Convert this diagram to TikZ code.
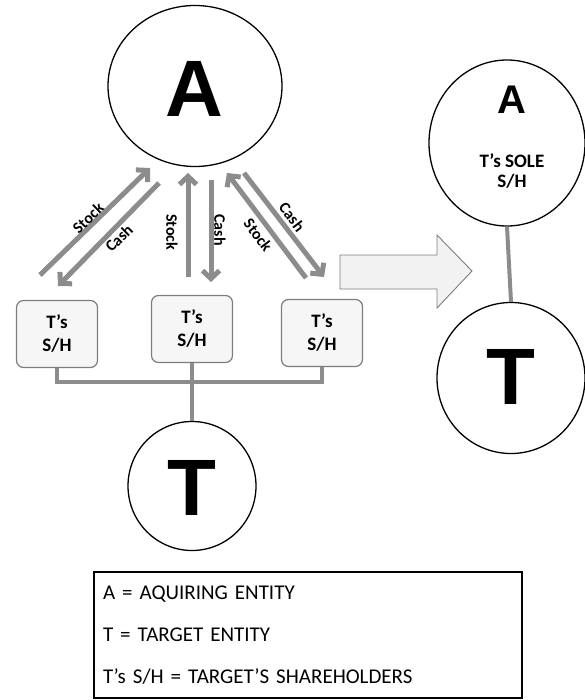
\documentclass[tikz,border=0pt]{standalone}
\usepackage{fontspec}
\setmainfont{Carlito}
\newfontfamily\bigfont{Liberation Sans}
\usetikzlibrary{arrows.meta, positioning, shapes.geometric}
\definecolor{linegray}{RGB}{140,140,140}
\definecolor{boxgray}{RGB}{246,246,246}
\definecolor{edgegray}{RGB}{125,125,125}
\definecolor{bigarrow}{RGB}{242,242,242}

\tikzset{
  entity/.style={ellipse, draw=black, line width=1.3pt, fill=white, inner sep=0pt},
  bigletter/.style={font=\bigfont\bfseries\fontsize{80}{80}\selectfont, inner sep=0pt},
  holder/.style={draw=edgegray, line width=1.2pt, rounded corners=7pt, fill=boxgray,
    minimum width=81pt, minimum height=67pt, align=center,
    font=\bfseries\fontsize{19}{23}\selectfont},
  flow/.style={line width=5pt, linegray, -{Straight Barb[length=8pt,width=17pt]}},
  flowlabel/.style={font=\bfseries\fontsize{16}{18}\selectfont, inner sep=0pt},
  link/.style={line width=4pt, linegray},
}

\begin{document}
\begin{tikzpicture}[x=1pt, y=-1pt]
  \useasboundingbox (0,0) rectangle (584,700);

  % left side: before the deal
  \node[entity, minimum width=174pt, minimum height=161pt] (acq) at (195,86) {};
  \node[bigletter] (acqname) at (194,89) {A};

  \node[holder] (sh1) at (57,334) {T’s\\S/H};
  \node[holder] (sh2) at (192,329) {T’s\\S/H};
  \node[holder] (sh3) at (322,333) {T’s\\S/H};

  \node[entity, minimum width=128pt, minimum height=129pt] (tgt) at (192,486) {};
  \node[bigletter] (tgtname) at (192,488) {T};

  \coordinate (bar) at (192,382);
  \draw[link] (sh1.south) |- (bar) -| (sh3.south);
  \draw[link] (sh2.south) -- (tgt.north);

  % stock and cash flows
  \coordinate (s1) at (40,275);  \coordinate (s1e) at (150,168);
  \coordinate (c1) at (159,183); \coordinate (c1e) at (58,286);
  \coordinate (s2) at (188,277); \coordinate (s2e) at (188,173);
  \coordinate (c2) at (211,180); \coordinate (c2e) at (211,282);
  \coordinate (s3) at (306,278); \coordinate (s3e) at (227,173);
  \coordinate (c3) at (244,173); \coordinate (c3e) at (324,277);
  \draw[flow] (s1) -- (s1e);
  \draw[flow] (c1) -- (c1e);
  \draw[flow] (s2) -- (s2e);
  \draw[flow] (c2) -- (c2e);
  \draw[flow] (s3) -- (s3e);
  \draw[flow] (c3) -- (c3e);
  \node[flowlabel, rotate=44] (ls1) at (88,218) {Stock};
  \node[flowlabel, rotate=44] (lc1) at (119,238) {Cash};
  \node[flowlabel, rotate=-90] (ls2) at (172,232) {Stock};
  \node[flowlabel, rotate=-90] (lc2) at (220,230) {Cash};
  \node[flowlabel, rotate=-53] (ls3) at (258,235) {Stock};
  \node[flowlabel, rotate=-53] (lc3) at (292,217) {Cash};

  % big arrow
  \draw[edgegray, fill=bigarrow, line width=0.9pt]
    (340,255) -- (437,255) -- (437,235) -- (472,271) -- (437,308) -- (437,289) -- (340,289) -- cycle;

  % right side: after the deal
  \node[entity, minimum width=156pt, minimum height=166pt] (acqR) at (507,143) {};
  \node[font=\bigfont\bfseries\fontsize{40}{40}\selectfont, inner sep=0pt] (acqRname) at (512,100) {A};
  \node[align=center, font=\bfseries\fontsize{19}{20}\selectfont] (soleR) at (512,171) {T’s SOLE\\S/H};

  \node[entity, minimum width=148pt, minimum height=151pt] (tgtR) at (511,378) {};
  \node[bigletter] (tgtRname) at (511,377) {T};
  \draw[link] (acqR.south) -- (tgtR.north);

  % legend
  \node[draw=black, line width=1.2pt, minimum width=428pt, minimum height=126pt,
    text width=410pt, align=left, font=\fontsize{21}{42}\selectfont] (legend) at (308,635)
    {A = AQUIRING ENTITY\\T = TARGET ENTITY\\T’s S/H = TARGET’S SHAREHOLDERS};
\end{tikzpicture}
\end{document}
